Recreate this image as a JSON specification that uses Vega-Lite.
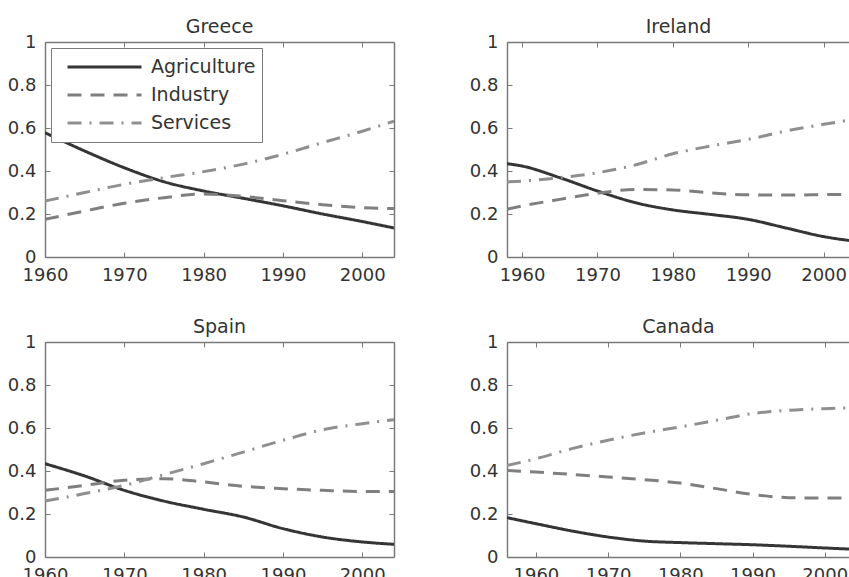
{
  "$schema": "https://vega.github.io/schema/vega-lite/v6.json",
  "padding": {"left": 7, "top": 18, "right": 0, "bottom": 0},
  "datasets": {
    "d": [
      {"country":"Greece","year":1960,"sector":"Agriculture","share":0.578},
      {"country":"Greece","year":1965,"sector":"Agriculture","share":0.493},
      {"country":"Greece","year":1970,"sector":"Agriculture","share":0.415},
      {"country":"Greece","year":1975,"sector":"Agriculture","share":0.350},
      {"country":"Greece","year":1980,"sector":"Agriculture","share":0.307},
      {"country":"Greece","year":1985,"sector":"Agriculture","share":0.273},
      {"country":"Greece","year":1990,"sector":"Agriculture","share":0.238},
      {"country":"Greece","year":1995,"sector":"Agriculture","share":0.200},
      {"country":"Greece","year":2000,"sector":"Agriculture","share":0.165},
      {"country":"Greece","year":2004,"sector":"Agriculture","share":0.135},
      {"country":"Greece","year":1960,"sector":"Industry","share":0.175},
      {"country":"Greece","year":1965,"sector":"Industry","share":0.214},
      {"country":"Greece","year":1970,"sector":"Industry","share":0.250},
      {"country":"Greece","year":1975,"sector":"Industry","share":0.276},
      {"country":"Greece","year":1980,"sector":"Industry","share":0.293},
      {"country":"Greece","year":1985,"sector":"Industry","share":0.282},
      {"country":"Greece","year":1990,"sector":"Industry","share":0.262},
      {"country":"Greece","year":1995,"sector":"Industry","share":0.243},
      {"country":"Greece","year":2000,"sector":"Industry","share":0.230},
      {"country":"Greece","year":2004,"sector":"Industry","share":0.225},
      {"country":"Greece","year":1960,"sector":"Services","share":0.260},
      {"country":"Greece","year":1965,"sector":"Services","share":0.300},
      {"country":"Greece","year":1970,"sector":"Services","share":0.338},
      {"country":"Greece","year":1975,"sector":"Services","share":0.369},
      {"country":"Greece","year":1980,"sector":"Services","share":0.397},
      {"country":"Greece","year":1985,"sector":"Services","share":0.432},
      {"country":"Greece","year":1990,"sector":"Services","share":0.478},
      {"country":"Greece","year":1995,"sector":"Services","share":0.532},
      {"country":"Greece","year":2000,"sector":"Services","share":0.585},
      {"country":"Greece","year":2004,"sector":"Services","share":0.632},

      {"country":"Ireland","year":1958,"sector":"Agriculture","share":0.434},
      {"country":"Ireland","year":1960,"sector":"Agriculture","share":0.423},
      {"country":"Ireland","year":1965,"sector":"Agriculture","share":0.369},
      {"country":"Ireland","year":1970,"sector":"Agriculture","share":0.307},
      {"country":"Ireland","year":1975,"sector":"Agriculture","share":0.253},
      {"country":"Ireland","year":1980,"sector":"Agriculture","share":0.219},
      {"country":"Ireland","year":1985,"sector":"Agriculture","share":0.198},
      {"country":"Ireland","year":1990,"sector":"Agriculture","share":0.175},
      {"country":"Ireland","year":1995,"sector":"Agriculture","share":0.135},
      {"country":"Ireland","year":2000,"sector":"Agriculture","share":0.095},
      {"country":"Ireland","year":2004,"sector":"Agriculture","share":0.074},
      {"country":"Ireland","year":1958,"sector":"Industry","share":0.222},
      {"country":"Ireland","year":1960,"sector":"Industry","share":0.237},
      {"country":"Ireland","year":1965,"sector":"Industry","share":0.268},
      {"country":"Ireland","year":1970,"sector":"Industry","share":0.296},
      {"country":"Ireland","year":1975,"sector":"Industry","share":0.314},
      {"country":"Ireland","year":1980,"sector":"Industry","share":0.312},
      {"country":"Ireland","year":1985,"sector":"Industry","share":0.298},
      {"country":"Ireland","year":1990,"sector":"Industry","share":0.289},
      {"country":"Ireland","year":1995,"sector":"Industry","share":0.288},
      {"country":"Ireland","year":2000,"sector":"Industry","share":0.290},
      {"country":"Ireland","year":2004,"sector":"Industry","share":0.292},
      {"country":"Ireland","year":1958,"sector":"Services","share":0.349},
      {"country":"Ireland","year":1960,"sector":"Services","share":0.353},
      {"country":"Ireland","year":1965,"sector":"Services","share":0.369},
      {"country":"Ireland","year":1970,"sector":"Services","share":0.392},
      {"country":"Ireland","year":1975,"sector":"Services","share":0.428},
      {"country":"Ireland","year":1980,"sector":"Services","share":0.480},
      {"country":"Ireland","year":1985,"sector":"Services","share":0.516},
      {"country":"Ireland","year":1990,"sector":"Services","share":0.547},
      {"country":"Ireland","year":1995,"sector":"Services","share":0.586},
      {"country":"Ireland","year":2000,"sector":"Services","share":0.617},
      {"country":"Ireland","year":2004,"sector":"Services","share":0.640},

      {"country":"Spain","year":1960,"sector":"Agriculture","share":0.434},
      {"country":"Spain","year":1965,"sector":"Agriculture","share":0.377},
      {"country":"Spain","year":1970,"sector":"Agriculture","share":0.310},
      {"country":"Spain","year":1975,"sector":"Agriculture","share":0.260},
      {"country":"Spain","year":1980,"sector":"Agriculture","share":0.222},
      {"country":"Spain","year":1985,"sector":"Agriculture","share":0.186},
      {"country":"Spain","year":1990,"sector":"Agriculture","share":0.132},
      {"country":"Spain","year":1995,"sector":"Agriculture","share":0.093},
      {"country":"Spain","year":2000,"sector":"Agriculture","share":0.070},
      {"country":"Spain","year":2004,"sector":"Agriculture","share":0.059},
      {"country":"Spain","year":1960,"sector":"Industry","share":0.310},
      {"country":"Spain","year":1965,"sector":"Industry","share":0.333},
      {"country":"Spain","year":1970,"sector":"Industry","share":0.357},
      {"country":"Spain","year":1975,"sector":"Industry","share":0.364},
      {"country":"Spain","year":1980,"sector":"Industry","share":0.349},
      {"country":"Spain","year":1985,"sector":"Industry","share":0.329},
      {"country":"Spain","year":1990,"sector":"Industry","share":0.318},
      {"country":"Spain","year":1995,"sector":"Industry","share":0.310},
      {"country":"Spain","year":2000,"sector":"Industry","share":0.305},
      {"country":"Spain","year":2004,"sector":"Industry","share":0.305},
      {"country":"Spain","year":1960,"sector":"Services","share":0.260},
      {"country":"Spain","year":1965,"sector":"Services","share":0.295},
      {"country":"Spain","year":1970,"sector":"Services","share":0.333},
      {"country":"Spain","year":1975,"sector":"Services","share":0.383},
      {"country":"Spain","year":1980,"sector":"Services","share":0.434},
      {"country":"Spain","year":1985,"sector":"Services","share":0.488},
      {"country":"Spain","year":1990,"sector":"Services","share":0.543},
      {"country":"Spain","year":1995,"sector":"Services","share":0.592},
      {"country":"Spain","year":2000,"sector":"Services","share":0.620},
      {"country":"Spain","year":2004,"sector":"Services","share":0.639},

      {"country":"Canada","year":1956,"sector":"Agriculture","share":0.183},
      {"country":"Canada","year":1960,"sector":"Agriculture","share":0.155},
      {"country":"Canada","year":1965,"sector":"Agriculture","share":0.121},
      {"country":"Canada","year":1970,"sector":"Agriculture","share":0.093},
      {"country":"Canada","year":1975,"sector":"Agriculture","share":0.074},
      {"country":"Canada","year":1980,"sector":"Agriculture","share":0.067},
      {"country":"Canada","year":1985,"sector":"Agriculture","share":0.062},
      {"country":"Canada","year":1990,"sector":"Agriculture","share":0.057},
      {"country":"Canada","year":1995,"sector":"Agriculture","share":0.050},
      {"country":"Canada","year":2000,"sector":"Agriculture","share":0.042},
      {"country":"Canada","year":2004,"sector":"Agriculture","share":0.036},
      {"country":"Canada","year":1956,"sector":"Industry","share":0.403},
      {"country":"Canada","year":1960,"sector":"Industry","share":0.395},
      {"country":"Canada","year":1965,"sector":"Industry","share":0.384},
      {"country":"Canada","year":1970,"sector":"Industry","share":0.372},
      {"country":"Canada","year":1975,"sector":"Industry","share":0.360},
      {"country":"Canada","year":1980,"sector":"Industry","share":0.344},
      {"country":"Canada","year":1985,"sector":"Industry","share":0.318},
      {"country":"Canada","year":1990,"sector":"Industry","share":0.291},
      {"country":"Canada","year":1995,"sector":"Industry","share":0.276},
      {"country":"Canada","year":2000,"sector":"Industry","share":0.274},
      {"country":"Canada","year":2004,"sector":"Industry","share":0.276},
      {"country":"Canada","year":1956,"sector":"Services","share":0.426},
      {"country":"Canada","year":1960,"sector":"Services","share":0.457},
      {"country":"Canada","year":1965,"sector":"Services","share":0.504},
      {"country":"Canada","year":1970,"sector":"Services","share":0.543},
      {"country":"Canada","year":1975,"sector":"Services","share":0.577},
      {"country":"Canada","year":1980,"sector":"Services","share":0.605},
      {"country":"Canada","year":1985,"sector":"Services","share":0.636},
      {"country":"Canada","year":1990,"sector":"Services","share":0.667},
      {"country":"Canada","year":1995,"sector":"Services","share":0.682},
      {"country":"Canada","year":2000,"sector":"Services","share":0.690},
      {"country":"Canada","year":2004,"sector":"Services","share":0.695}
    ]
  },
  "config": {
    "font": "DejaVu Sans",
    "view": {"stroke": null},
    "axis": {
      "grid": false, "title": null,
      "domainColor": "#7a7a7a", "domainWidth": 1.5,
      "tickColor": "#7a7a7a", "tickSize": -5, "tickWidth": 1,
      "labelFont": "DejaVu Sans", "labelFontSize": 18, "labelColor": "#333333",
      "labelPadding": 14, "labelFlush": false
    },
    "title": {"font": "DejaVu Sans", "fontSize": 19, "fontWeight": "normal", "color": "#333333", "offset": -4},
    "legend": {
      "title": null, "orient": "top-left", "offset": 6,
      "strokeColor": "#7a7a7a", "fillColor": "white", "padding": 6,
      "symbolType": "stroke", "symbolStrokeWidth": 3, "symbolSize": 5476,
      "symbolOffset": 9, "clipHeight": 26, "rowPadding": 2,
      "labelFont": "DejaVu Sans", "labelFontSize": 19, "labelColor": "#333333",
      "labelOffset": 8
    }
  },
  "resolve": {"legend": {"color": "independent", "strokeDash": "independent"}},
  "columns": 2,
  "spacing": {"row": 34, "column": 74},
  "concat": [
    {
      "title": "Greece", "width": 349, "height": 215,
      "data": {"name": "d"},
      "transform": [{"filter": "datum.country === 'Greece'"}],
      "layer": [
        {
          "mark": {"type": "line", "clip": true, "strokeWidth": 3, "interpolate": "monotone"},
          "encoding": {
            "x": {"field": "year", "type": "quantitative", "scale": {"domain": [1960, 2004], "nice": false, "zero": false}, "axis": {"orient": "bottom", "values": [1960,1970,1980,1990,2000], "format": "d"}},
            "y": {"field": "share", "type": "quantitative", "scale": {"domain": [0, 1], "nice": false}, "axis": {"orient": "left", "values": [0,0.2,0.4,0.6,0.8,1], "format": "~g"}},
            "color": {"field": "sector", "type": "nominal", "scale": {"domain": ["Agriculture","Industry","Services"], "range": ["#353535","#7f7f7f","#8f8f8f"]}},
            "strokeDash": {"field": "sector", "type": "nominal", "scale": {"domain": ["Agriculture","Industry","Services"], "range": [[1,0],[14,9],[14,8,2,8]]}}
          }
        },
        {
          "mark": {"type": "point", "opacity": 0, "clip": true},
          "encoding": {
            "x": {"field": "year", "type": "quantitative", "axis": {"orient": "top", "labels": false, "values": [1960,1970,1980,1990,2000]}},
            "y": {"field": "share", "type": "quantitative", "axis": {"orient": "right", "labels": false, "values": [0,0.2,0.4,0.6,0.8,1]}}
          }
        }
      ]
    },
    {
      "title": "Ireland", "width": 343, "height": 215,
      "data": {"name": "d"},
      "transform": [{"filter": "datum.country === 'Ireland'"}],
      "layer": [
        {
          "mark": {"type": "line", "clip": true, "strokeWidth": 3, "interpolate": "monotone"},
          "encoding": {
            "x": {"field": "year", "type": "quantitative", "scale": {"domain": [1958, 2003.5], "nice": false, "zero": false}, "axis": {"orient": "bottom", "values": [1960,1970,1980,1990,2000], "format": "d"}},
            "y": {"field": "share", "type": "quantitative", "scale": {"domain": [0, 1], "nice": false}, "axis": {"orient": "left", "values": [0,0.2,0.4,0.6,0.8,1], "format": "~g"}},
            "color": {"field": "sector", "type": "nominal", "scale": {"domain": ["Agriculture","Industry","Services"], "range": ["#353535","#7f7f7f","#8f8f8f"]}, "legend": null},
            "strokeDash": {"field": "sector", "type": "nominal", "scale": {"domain": ["Agriculture","Industry","Services"], "range": [[1,0],[14,9],[14,8,2,8]]}, "legend": null}
          }
        },
        {
          "mark": {"type": "point", "opacity": 0, "clip": true},
          "encoding": {
            "x": {"field": "year", "type": "quantitative", "axis": {"orient": "top", "labels": false, "values": [1960,1970,1980,1990,2000]}},
            "y": {"field": "share", "type": "quantitative"}
          }
        }
      ]
    },
    {
      "title": "Spain", "width": 349, "height": 215,
      "data": {"name": "d"},
      "transform": [{"filter": "datum.country === 'Spain'"}],
      "layer": [
        {
          "mark": {"type": "line", "clip": true, "strokeWidth": 3, "interpolate": "monotone"},
          "encoding": {
            "x": {"field": "year", "type": "quantitative", "scale": {"domain": [1960, 2004], "nice": false, "zero": false}, "axis": {"orient": "bottom", "values": [1960,1970,1980,1990,2000], "format": "d"}},
            "y": {"field": "share", "type": "quantitative", "scale": {"domain": [0, 1], "nice": false}, "axis": {"orient": "left", "values": [0,0.2,0.4,0.6,0.8,1], "format": "~g"}},
            "color": {"field": "sector", "type": "nominal", "scale": {"domain": ["Agriculture","Industry","Services"], "range": ["#353535","#7f7f7f","#8f8f8f"]}, "legend": null},
            "strokeDash": {"field": "sector", "type": "nominal", "scale": {"domain": ["Agriculture","Industry","Services"], "range": [[1,0],[14,9],[14,8,2,8]]}, "legend": null}
          }
        },
        {
          "mark": {"type": "point", "opacity": 0, "clip": true},
          "encoding": {
            "x": {"field": "year", "type": "quantitative", "axis": {"orient": "top", "labels": false, "values": [1960,1970,1980,1990,2000]}},
            "y": {"field": "share", "type": "quantitative", "axis": {"orient": "right", "labels": false, "values": [0,0.2,0.4,0.6,0.8,1]}}
          }
        }
      ]
    },
    {
      "title": "Canada", "width": 343, "height": 215,
      "data": {"name": "d"},
      "transform": [{"filter": "datum.country === 'Canada'"}],
      "layer": [
        {
          "mark": {"type": "line", "clip": true, "strokeWidth": 3, "interpolate": "monotone"},
          "encoding": {
            "x": {"field": "year", "type": "quantitative", "scale": {"domain": [1956, 2003.5], "nice": false, "zero": false}, "axis": {"orient": "bottom", "values": [1960,1970,1980,1990,2000], "format": "d"}},
            "y": {"field": "share", "type": "quantitative", "scale": {"domain": [0, 1], "nice": false}, "axis": {"orient": "left", "values": [0,0.2,0.4,0.6,0.8,1], "format": "~g"}},
            "color": {"field": "sector", "type": "nominal", "scale": {"domain": ["Agriculture","Industry","Services"], "range": ["#353535","#7f7f7f","#8f8f8f"]}, "legend": null},
            "strokeDash": {"field": "sector", "type": "nominal", "scale": {"domain": ["Agriculture","Industry","Services"], "range": [[1,0],[14,9],[14,8,2,8]]}, "legend": null}
          }
        },
        {
          "mark": {"type": "point", "opacity": 0, "clip": true},
          "encoding": {
            "x": {"field": "year", "type": "quantitative", "axis": {"orient": "top", "labels": false, "values": [1960,1970,1980,1990,2000]}},
            "y": {"field": "share", "type": "quantitative"}
          }
        }
      ]
    }
  ]
}
